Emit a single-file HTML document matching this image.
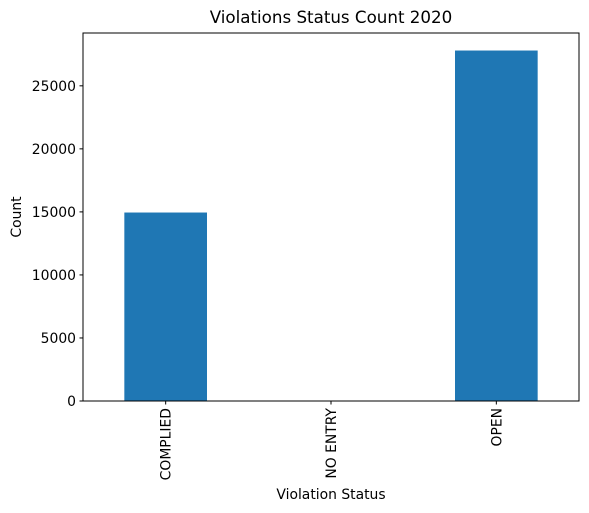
<!DOCTYPE html>
<html><head><meta charset="utf-8"><style>
html,body{margin:0;padding:0;background:#fff;}
svg{display:block;font-family:"DejaVu Sans","Liberation Sans",sans-serif;}
</style></head><body>
<svg id="chart" width="589" height="513">
<text x="331" y="23" text-anchor="middle" font-size="16.7">Violations Status Count 2020</text>
<g id="bars"></g>
<rect x="83" y="33" width="496" height="368" fill="none" stroke="#000" stroke-width="1"/>
<g id="yticks"></g>
<g id="xticks"></g>
<text x="331" y="499" text-anchor="middle" font-size="13.9">Violation Status</text>
<text transform="translate(21,217) rotate(-90)" text-anchor="middle" font-size="13.9">Count</text>
</svg>
<script>
const categories = ["COMPLIED", "NO ENTRY", "OPEN"];
const counts = [14950, 5, 27800];
const yTicks = [0, 5000, 10000, 15000, 20000, 25000];
const NS = "http://www.w3.org/2000/svg";
const L = 83, R = 579, T = 33, B = 401;
const yMax = 27800 * 1.05;
const y = v => B - v / yMax * (B - T);
const band = (R - L) / categories.length;
const x = i => L + band * (i + 0.5);
const bw = band * 0.5;
function mk(tag, attrs, parent) {
  const e = document.createElementNS(NS, tag);
  for (const k in attrs) e.setAttribute(k, attrs[k]);
  parent.appendChild(e);
  return e;
}
const gb = document.getElementById("bars");
counts.forEach((v, i) => {
  const r = mk("rect", {x: x(i) - bw / 2, y: y(v), width: bw, height: B - y(v), fill: "#1f77b4"}, gb);
  
  
});
const gy = document.getElementById("yticks");
yTicks.forEach(t => {
  const l = mk("line", {x1: L - 3.5, x2: L, y1: y(t), y2: y(t), stroke: "#000"}, gy);
  
  
  const tx = mk("text", {x: L - 7, y: y(t) + 5, "text-anchor": "end", "font-size": "13.9"}, gy);
  tx.textContent = t;
  
  
});
const gx = document.getElementById("xticks");
categories.forEach((c, i) => {
  const l = mk("line", {x1: x(i), x2: x(i), y1: B, y2: B + 3.5, stroke: "#000"}, gx);
  
  
  const tx = mk("text", {transform: `translate(${x(i) + 5},${B + 7}) rotate(-90)`, "text-anchor": "end", "font-size": "13.9"}, gx);
  tx.textContent = c;
  
  
});
</script>
</body></html>
